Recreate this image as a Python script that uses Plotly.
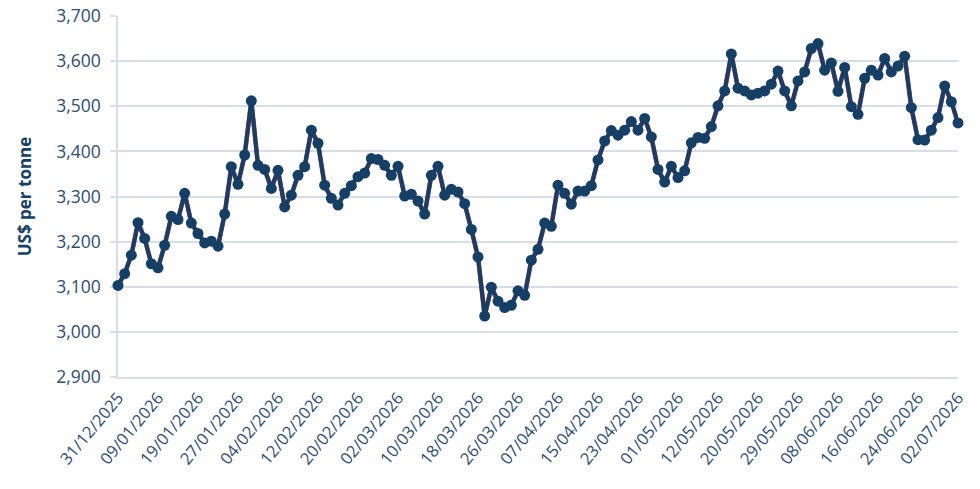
import pandas as pd
import plotly.graph_objects as go

# UK business days 31/12/2025 - 02/07/2026 (categories)
holidays = ["2026-01-01", "2026-04-03", "2026-04-06", "2026-05-04", "2026-05-25"]
dates = [d for d in pd.bdate_range("2025-12-31", "2026-07-02") if d.strftime("%Y-%m-%d") not in holidays]
categories = [d.strftime("%d/%m/%Y") for d in dates]

prices = [
    3103, 3129, 3170, 3242, 3207, 3151, 3142, 3192, 3256, 3249,
    3307, 3241, 3218, 3197, 3201, 3190, 3261, 3366, 3327, 3392,
    3512, 3369, 3360, 3318, 3358, 3277, 3303, 3347, 3366, 3447,
    3418, 3325, 3296, 3281, 3307, 3324, 3344, 3352, 3384, 3382,
    3369, 3347, 3367, 3301, 3305, 3290, 3261, 3347, 3367, 3303,
    3316, 3310, 3284, 3227, 3166, 3035, 3099, 3068, 3054, 3059,
    3091, 3081, 3159, 3183, 3241, 3234, 3325, 3307, 3283, 3312,
    3312, 3324, 3381, 3423, 3446, 3436, 3447, 3466, 3447, 3473,
    3432, 3360, 3332, 3367, 3342, 3357, 3419, 3431, 3429, 3455,
    3501, 3534, 3616, 3540, 3534, 3525, 3529, 3534, 3549, 3578,
    3534, 3501, 3556, 3576, 3628, 3639, 3580, 3596, 3533, 3586,
    3499, 3482, 3562, 3580, 3569, 3606, 3576, 3589, 3611, 3497,
    3426, 3425, 3447, 3475, 3545, 3510, 3463,
]

tick_labels = categories[::6]
y_ticks = list(range(2900, 3701, 100))

navy = "#163f66"
text_col = "#2f4d70"
grid_col = "#d8dee8"

fig = go.Figure()
fig.add_trace(go.Scatter(
    x=categories, y=prices, mode="lines",
    line=dict(color="#c0394b", width=4.6),
    hoverinfo="skip", showlegend=False, cliponaxis=False,
))
fig.add_trace(go.Scatter(
    x=categories, y=prices, mode="lines+markers",
    line=dict(color=navy, width=4),
    marker=dict(color=navy, size=11),
    showlegend=False, cliponaxis=False,
))

fig.update_layout(
    width=980, height=489,
    margin=dict(l=118, r=22, t=16, b=112),
    paper_bgcolor="white", plot_bgcolor="white",
    font=dict(family="Open Sans", color=text_col),
    xaxis=dict(
        type="category", automargin=False, layer="below traces",
        range=[0, len(categories) - 1],
        tickmode="array", tickvals=tick_labels, ticktext=tick_labels,
        tickangle=-50, tickfont=dict(size=16.5, color=text_col),
        ticklabelstandoff=3,
        showgrid=False, showline=True, linecolor=grid_col, linewidth=1.5,
        ticks="", zeroline=False,
    ),
    yaxis=dict(
        range=[2900, 3700], automargin=False, layer="below traces",
        tickvals=y_ticks, tickformat=",",
        tickfont=dict(size=17.5, color=text_col),
        showgrid=True, gridcolor=grid_col, gridwidth=1.5,
        showline=True, linecolor=grid_col, linewidth=1.5,
        ticks="outside", ticklen=6, tickcolor=grid_col, tickwidth=1.5,
        ticklabelstandoff=6,
        zeroline=False,
        title=dict(text="US$ per tonne", font=dict(size=17, color=navy, family="Open Sans", weight="bold"), standoff=20),
    ),
)

fig.write_html("out.html")
